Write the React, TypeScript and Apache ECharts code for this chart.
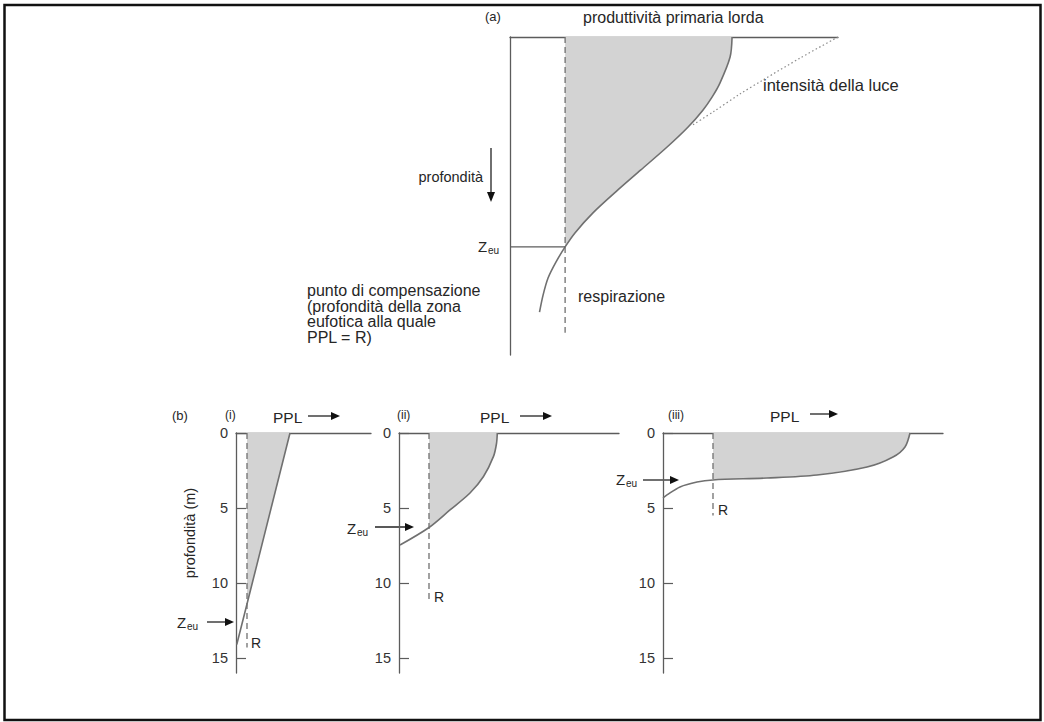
import React, { useEffect, useRef } from "react";
import * as echarts from "echarts";

// ---------- data ----------
// panel (a): x = production (arbitrary units 0..100), y = depth (0..100)
const aRespiration = 16.8;
const aDashedDepth = 93;
const aZeu = 66.0;
const aGross: [number, number][] = [
  [67.7, 0], [67.1, 6.3], [64.0, 14.5], [61.6, 18.9], [58.8, 23.0], [54.3, 28.3],
  [47.9, 34.6], [39.9, 41.8], [32.9, 48.1], [25.3, 55.3], [19.8, 61.6], [16.8, 66.0],
  [14.0, 70.8], [11.6, 75.8], [10.1, 81.1], [9.0, 86.5],
];
const aLight: [number, number][] = [
  [100, 0], [88.5, 6.6], [77, 13.6], [70, 18], [62, 23.5], [55.8, 27.6],
];

// panel (b): depth in metres
const depthTicks = [0, 5, 10, 15];
const iGross: [number, number][] = [[10.8, 0], [2.2, 11.4], [0.15, 14.1]];
const iResp = 2.2;
const iDashedDepth = 14.3;
const iiGross: [number, number][] = [
  [19.66, 0], [19.5, 0.7], [18.9, 1.56], [16.9, 2.9], [14.2, 4.0], [10.2, 5.13], [6.0, 6.3], [0.2, 7.47],
];
const iiResp = 6.0;
const iiDashedDepth = 11.1;
const iiiGross: [number, number][] = [
  [49.4, 0], [48.4, 0.93], [46, 1.6], [40.8, 2.27], [30.8, 2.8], [20.8, 3.0], [10, 3.13],
  [6.8, 3.27], [3.4, 3.6], [0.8, 4.13], [0, 4.33],
];
const iiiResp = 10;
const iiiDashedDepth = 5.5;

const FONT = '"Liberation Sans", Arial, Helvetica, sans-serif';
const TXT = "#262626";
const AXIS = "#5c5c5c";
const CURVE = "#707070";
const SHADE = "#d3d3d3";

function shadePoly(curve: [number, number][], R: number): [number, number][] {
  const pts: [number, number][] = [];
  for (const p of curve) {
    if (p[0] >= R - 1e-9) pts.push(p);
    else break;
  }
  const last = pts[pts.length - 1];
  pts.push([R, last[1]]);
  pts.push([R, 0]);
  return pts;
}

function shadeSeries(idx: number, curve: [number, number][], R: number) {
  const poly = shadePoly(curve, R);
  return {
    type: "custom",
    xAxisIndex: idx,
    yAxisIndex: idx,
    silent: true,
    z: 1,
    data: [[0, 0]],
    encode: { x: 0, y: 1 },
    renderItem: (_p: any, api: any) => ({
      type: "polygon",
      shape: { points: poly.map((q) => api.coord(q)) },
      style: { fill: SHADE, stroke: null },
    }),
  };
}

function lineSeries(idx: number, data: [number, number][], style: any, smooth: number | boolean = false) {
  return {
    type: "line",
    xAxisIndex: idx,
    yAxisIndex: idx,
    data,
    smooth,
    symbol: "none",
    silent: true,
    clip: false,
    z: 3,
    lineStyle: style,
  };
}

function txt(x: number, y: number, text: string, size: number, align = "left", rotation = 0) {
  return {
    type: "text",
    x,
    y,
    rotation,
    silent: true,
    style: {
      text,
      fontSize: size,
      fontFamily: FONT,
      fill: TXT,
      align,
      verticalAlign: "middle",
      textAlign: align,
      textVerticalAlign: "middle",
    },
  };
}

function hArrow(x1: number, tip: number, y: number) {
  return [
    { type: "line", silent: true, shape: { x1, y1: y, x2: tip - 6, y2: y }, style: { stroke: "#222", lineWidth: 1.3 } },
    { type: "polygon", silent: true, shape: { points: [[tip, y], [tip - 9, y - 4], [tip - 9, y + 4]] }, style: { fill: "#111" } },
  ];
}

function zeu(x: number, y: number) {
  return [txt(x, y, "Z", 15), txt(x + 10, y + 4, "eu", 10)];
}

const bxAxis = (idx: number, max: number) => ({
  type: "value",
  gridIndex: idx,
  position: "top",
  min: 0,
  max,
  axisLine: { show: true, onZero: false, lineStyle: { color: AXIS, width: 1.3 } },
  axisTick: { show: false },
  axisLabel: { show: false },
  splitLine: { show: false },
});

const byAxis = (idx: number) => ({
  type: "value",
  gridIndex: idx,
  inverse: true,
  min: 0,
  max: 16,
  interval: 5,
  axisLine: { show: true, onZero: false, lineStyle: { color: AXIS, width: 1.3 } },
  axisTick: { show: true, inside: true, length: 10, customValues: depthTicks, lineStyle: { color: AXIS, width: 1.2 } },
  axisLabel: {
    show: true,
    customValues: depthTicks,
    margin: 8,
    color: "#333",
    fontSize: 14.5,
    fontFamily: FONT,
    formatter: (v: number) => (depthTicks.indexOf(v) >= 0 ? String(v) : ""),
  },
  splitLine: { show: false },
});

export default function App() {
  const ref = useRef<HTMLDivElement>(null);
  useEffect(() => {
    if (!ref.current) return;
    const chart = echarts.init(ref.current, undefined, { renderer: "svg" });
    const dashed = { color: CURVE, width: 1.3, type: [6, 4] };
    const solid = { color: CURVE, width: 1.6 };
    const option: any = {
      animation: false,
      backgroundColor: "#ffffff",
      grid: [
        { left: 510, top: 37, width: 328, height: 318 },
        { left: 236, top: 433, width: 135, height: 240 },
        { left: 399, top: 433, width: 220, height: 240 },
        { left: 663, top: 433, width: 280, height: 240 },
      ],
      xAxis: [
        {
          type: "value",
          gridIndex: 0,
          position: "top",
          min: 0,
          max: 100,
          axisLine: { show: true, onZero: false, lineStyle: { color: AXIS, width: 1.3 } },
          axisTick: { show: false },
          axisLabel: { show: false },
          splitLine: { show: false },
        },
        bxAxis(1, 27),
        bxAxis(2, 44),
        bxAxis(3, 56),
      ],
      yAxis: [
        {
          type: "value",
          gridIndex: 0,
          inverse: true,
          min: 0,
          max: 100,
          axisLine: { show: true, onZero: false, lineStyle: { color: AXIS, width: 1.3 } },
          axisTick: { show: false },
          axisLabel: { show: false },
          splitLine: { show: false },
        },
        byAxis(1),
        byAxis(2),
        byAxis(3),
      ],
      series: [
        shadeSeries(0, aGross, aRespiration),
        lineSeries(0, aGross, solid, 0.3),
        lineSeries(0, [[aRespiration, 0], [aRespiration, aDashedDepth]], dashed),
        lineSeries(0, [[0, aZeu], [aRespiration, aZeu]], { color: AXIS, width: 1.3 }),
        lineSeries(0, aLight, { color: "#8a8a8a", width: 1.2, type: [1.5, 2.5] }, 0.3),

        shadeSeries(1, iGross, iResp),
        lineSeries(1, iGross, solid),
        lineSeries(1, [[iResp, 0], [iResp, iDashedDepth]], dashed),

        shadeSeries(2, iiGross, iiResp),
        lineSeries(2, iiGross, solid, 0.3),
        lineSeries(2, [[iiResp, 0], [iiResp, iiDashedDepth]], dashed),

        shadeSeries(3, iiiGross, iiiResp),
        lineSeries(3, iiiGross, solid, 0.3),
        lineSeries(3, [[iiiResp, 0], [iiiResp, iiiDashedDepth]], dashed),
      ],
      graphic: [
        {
          type: "rect",
          silent: true,
          shape: { x: 4.5, y: 5, width: 1036, height: 715 },
          style: { fill: "none", stroke: "#111", lineWidth: 2.5 },
        },
        // panel (a)
        txt(485, 16, "(a)", 13),
        txt(583, 17, "produttività primaria lorda", 16),
        txt(577, 86, "produttività", 16),
        txt(577, 102, "primaria netta", 16),
        txt(763, 85, "intensità della luce", 16.5),
        txt(578, 296, "respirazione", 16),
        txt(483, 177, "profondità", 14.5, "right"),
        { type: "line", silent: true, shape: { x1: 491, y1: 148, x2: 491, y2: 194 }, style: { stroke: "#222", lineWidth: 1.3 } },
        { type: "polygon", silent: true, shape: { points: [[491, 202], [487, 192], [495, 192]] }, style: { fill: "#111" } },
        ...zeu(478, 246),
        txt(307, 290.5, "punto di compensazione", 16),
        txt(307, 306, "(profondità della zona", 16),
        txt(307, 321.5, "eufotica alla quale", 16),
        txt(307, 337, "PPL = R)", 16),
        // panel (b)
        txt(172, 415, "(b)", 13),
        txt(225, 415, "(i)", 12),
        txt(397, 415, "(ii)", 12),
        txt(668, 415, "(iii)", 12),
        txt(273, 417, "PPL", 15.5),
        ...hArrow(308, 340, 416),
        txt(480, 417, "PPL", 15.5),
        ...hArrow(520, 552, 416),
        txt(770, 416, "PPL", 15.5),
        ...hArrow(810, 838, 414),
        txt(250, 451, "PPN", 15),
        txt(445, 451, "PPN", 15),
        txt(752, 447, "PPN", 15),
        txt(190, 533, "profondità (m)", 14.5, "center", Math.PI / 2),
        txt(251, 643, "R", 14),
        txt(434, 597, "R", 14),
        txt(718, 510, "R", 14),
        ...zeu(177, 622),
        ...hArrow(207, 234, 622),
        ...zeu(347, 528),
        ...hArrow(375, 414, 527),
        ...zeu(616, 479),
        ...hArrow(643, 679, 480),
      ],
    };
    chart.setOption(option);
    return () => chart.dispose();
  }, []);
  return (
    <div
      ref={ref}
      style={{ position: "fixed", left: 0, top: 0, width: 1044, height: 722, background: "#fff" }}
    />
  );
}
